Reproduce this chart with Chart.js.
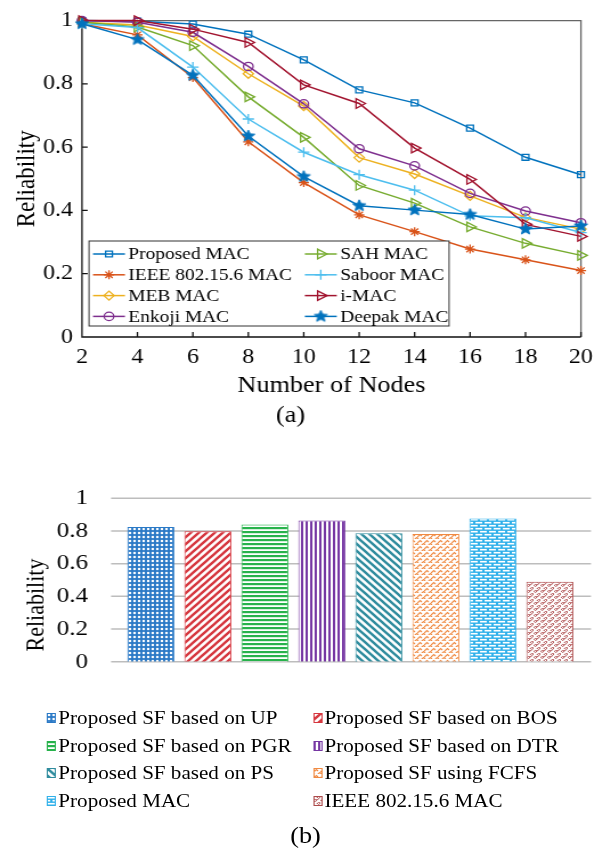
<!DOCTYPE html>
<html>
<head>
<meta charset="utf-8">
<title>Reliability</title>
<script src="https://cdn.jsdelivr.net/npm/chart.js@4.4.1/dist/chart.umd.min.js"></script>
<style>
  html, body { margin: 0; padding: 0; background: #fff; }
  body { width: 611px; height: 855px; overflow: hidden; }
  /* the source figure is a little wider than tall, so the page is stretched sideways */
  #page {
    position: relative;
    width: 536px;
    height: 855px;
    transform: scaleX(1.14);
    transform-origin: 0 0;
    font-family: "Liberation Serif", "Times New Roman", serif;
    color: #000;
  }
  #topBox { position: absolute; left: 0; top: 0; width: 536px; height: 440px; }
  #bottomBox { position: absolute; left: 0; top: 455px; width: 536px; height: 250px; }
  .y-title {
    position: absolute;
    left: -69.3px;
    top: 592px;
    width: 200px;
    height: 26px;
    line-height: 26px;
    text-align: center;
    font-size: 22px;
    transform: rotate(-90deg);
  }
  .legend-item {
    position: absolute;
    height: 24px;
    font-size: 18.5px;
    line-height: 24px;
    white-space: nowrap;
    display: flex;
    align-items: center;
  }
  .legend-item canvas { width: 8px; height: 10px; margin-right: 2px; }
  .caption {
    position: absolute;
    left: 0;
    top: 822px;
    width: 536px;
    text-align: center;
    font-size: 23px;
    line-height: 28px;
  }
</style>
</head>
<body>
<div id="page">
  <div id="topBox"><canvas id="reliabilityChart"></canvas></div>
  <div id="bottomBox"><canvas id="schemeChart"></canvas></div>
  <div class="y-title">Reliability</div>
  <div id="barLegend"></div>
  <div class="caption">(b)</div>
</div>

<script>
// (a) reliability vs number of nodes
const nodes = [2, 4, 6, 8, 10, 12, 14, 16, 18, 20];
const proposedMac = [1.0, 0.998, 0.989, 0.957, 0.876, 0.781, 0.740, 0.660, 0.568, 0.513];
const ieeeMac = [0.99, 0.955, 0.820, 0.617, 0.488, 0.386, 0.333, 0.278, 0.244, 0.210];
const mebMac = [0.995, 0.986, 0.950, 0.832, 0.730, 0.567, 0.515, 0.446, 0.378, 0.341];
const enkojiMac = [1.0, 0.995, 0.963, 0.855, 0.737, 0.595, 0.541, 0.454, 0.398, 0.361];
const sahMac = [0.995, 0.980, 0.921, 0.759, 0.631, 0.479, 0.423, 0.348, 0.296, 0.258];
const saboorMac = [0.99, 0.978, 0.853, 0.689, 0.584, 0.513, 0.464, 0.383, 0.377, 0.330];
const iMac = [1.0, 1.0, 0.973, 0.931, 0.797, 0.738, 0.597, 0.498, 0.356, 0.318];
const deepakMac = [0.99, 0.940, 0.827, 0.635, 0.507, 0.415, 0.401, 0.387, 0.341, 0.351];

// (b) reliability of each scheme
const schemeLabels = [
  "Proposed SF based on UP",
  "Proposed SF based on BOS",
  "Proposed SF based on PGR",
  "Proposed SF based on DTR",
  "Proposed SF based on PS",
  "Proposed SF using FCFS",
  "Proposed MAC",
  "IEEE 802.15.6 MAC"
];
const schemeValues = [0.824, 0.798, 0.840, 0.863, 0.785, 0.781, 0.876, 0.490];

Chart.defaults.font.family = '"Liberation Serif", "Times New Roman", serif';
Chart.defaults.color = "#000";

// ticks read 0, 0.2 ... 1 like the figure
const plainTick = (value) => String(Number(value.toFixed(1)));

// 5 point star marker for Deepak MAC
function makeStar(color, r) {
  const size = Math.ceil(r * 2 + 2);
  const c = document.createElement("canvas");
  c.width = size;
  c.height = size;
  const g = c.getContext("2d");
  g.beginPath();
  for (let k = 0; k < 10; k++) {
    const rad = k % 2 === 0 ? r : r * 0.45;
    const a = -Math.PI / 2 + (k * Math.PI) / 5;
    g.lineTo(size / 2 + rad * Math.cos(a), size / 2 + rad * Math.sin(a));
  }
  g.closePath();
  g.fillStyle = color;
  g.fill();
  g.strokeStyle = color;
  g.lineWidth = 1;
  g.stroke();
  return c;
}

const lineSeries = [
  { label: "Proposed MAC", data: proposedMac, color: "#0072BD", style: "rect", radius: 4.2 },
  { label: "IEEE 802.15.6 MAC", data: ieeeMac, color: "#D95319", style: "star", radius: 4.5 },
  { label: "MEB MAC", data: mebMac, color: "#EDB120", style: "rectRot", radius: 4.5 },
  { label: "Enkoji MAC", data: enkojiMac, color: "#7E2F8E", style: "circle", radius: 4.2 },
  { label: "SAH MAC", data: sahMac, color: "#77AC30", style: "triangle", rotation: 90, radius: 5.5 },
  { label: "Saboor MAC", data: saboorMac, color: "#4DBEEE", style: "cross", radius: 5 },
  { label: "i-MAC", data: iMac, color: "#A2142F", style: "triangle", rotation: 90, radius: 5.5 },
  { label: "Deepak MAC", data: deepakMac, color: "#0072BD", style: makeStar("#0072BD", 6), radius: 6 }
];

// box with inward ticks, matlab style
const framePlugin = {
  id: "frame",
  beforeDatasetsDraw(chart) {
    const { ctx, chartArea, scales } = chart;
    const { left, right, top, bottom } = chartArea;
    ctx.save();
    ctx.lineWidth = 1.3;
    ctx.strokeStyle = "#666";
    ctx.beginPath();
    ctx.moveTo(left, top);
    ctx.lineTo(right, top);
    ctx.lineTo(right, bottom);
    ctx.stroke();

    ctx.strokeStyle = "#111";
    ctx.beginPath();
    ctx.moveTo(left, top);
    ctx.lineTo(left, bottom);
    ctx.lineTo(right, bottom);
    scales.x.ticks.forEach((t) => {
      const px = scales.x.getPixelForValue(t.value);
      ctx.moveTo(px, bottom);
      ctx.lineTo(px, bottom - 5);
    });
    scales.y.ticks.forEach((t) => {
      const py = scales.y.getPixelForValue(t.value);
      ctx.moveTo(left, py);
      ctx.lineTo(left + 5, py);
    });
    ctx.stroke();
    ctx.restore();
  }
};

// legend box inside the plot, two columns
const boxLegendPlugin = {
  id: "boxLegend",
  afterDatasetsDraw(chart) {
    const { ctx, chartArea } = chart;
    const boxLeft = chartArea.left + 6.2;
    const boxRight = boxLeft + 315.8;
    const boxBottom = chartArea.bottom - 11;
    const boxTop = boxBottom - 85;
    const rowY = [254, 274.8, 295.6, 316.4];
    const colX = [boxLeft + 3.5, boxLeft + 189.3];

    ctx.save();
    ctx.fillStyle = "#fff";
    ctx.fillRect(boxLeft, boxTop, boxRight - boxLeft, boxBottom - boxTop);
    ctx.strokeStyle = "#333";
    ctx.lineWidth = 1;
    ctx.strokeRect(boxLeft, boxTop, boxRight - boxLeft, boxBottom - boxTop);

    ctx.font = '17px "Liberation Serif", "Times New Roman", serif';
    ctx.textBaseline = "middle";
    chart.data.datasets.forEach((ds, i) => {
      const x0 = colX[Math.floor(i / 4)];
      const y0 = rowY[i % 4];
      ctx.strokeStyle = ds.borderColor;
      ctx.lineWidth = 1.5;
      ctx.beginPath();
      ctx.moveTo(x0, y0);
      ctx.lineTo(x0 + 28, y0);
      ctx.stroke();

      ctx.fillStyle = "rgba(0,0,0,0)";
      ctx.lineWidth = 1.3;
      if (Chart.helpers && Chart.helpers.drawPoint) {
        Chart.helpers.drawPoint(ctx, {
          pointStyle: ds.pointStyle,
          rotation: ds.pointRotation || 0,
          radius: ds.pointRadius,
          borderWidth: 1.3
        }, x0 + 14, y0);
      }

      ctx.fillStyle = "#000";
      ctx.fillText(ds.label, x0 + 31, y0 + 1);
    });
    ctx.restore();
  }
};

new Chart(document.getElementById("reliabilityChart"), {
  type: "line",
  data: {
    datasets: lineSeries.map((s, i) => ({
      label: s.label,
      data: nodes.map((n, k) => ({ x: n, y: s.data[k] })),
      borderColor: s.color,
      backgroundColor: s.color,
      borderWidth: 1.5,
      pointStyle: s.style,
      pointRotation: s.rotation || 0,
      pointRadius: s.radius,
      pointBorderWidth: 1.3,
      pointBorderColor: s.color,
      pointBackgroundColor: "rgba(0,0,0,0)",
      tension: 0,
      clip: false,
      order: lineSeries.length - i
    }))
  },
  options: {
    responsive: true,
    maintainAspectRatio: false,
    animation: false,
    layout: {
      padding: { left: 0, right: 26.4, top: 12, bottom: 10.2 }
    },
    plugins: {
      legend: { display: false },
      tooltip: { enabled: false },
      title: {
        display: true,
        text: "(a)",
        position: "bottom",
        color: "#000",
        font: { size: 23, weight: "normal" },
        padding: { top: 2.4, bottom: 0 }
      }
    },
    scales: {
      x: {
        type: "linear",
        min: 2,
        max: 20,
        ticks: { stepSize: 2, padding: 8, color: "#000", font: { size: 21 } },
        grid: { display: false, drawTicks: false },
        border: { display: false },
        title: {
          display: true,
          text: "Number of Nodes",
          color: "#000",
          font: { size: 23 },
          padding: { top: 2, bottom: 0 }
        },
        afterFit(scale) {
          scale.height = 62.8;
        }
      },
      y: {
        min: 0,
        max: 1,
        ticks: { stepSize: 0.2, padding: 8, color: "#000", font: { size: 21 }, callback: plainTick },
        grid: { display: false, drawTicks: false },
        border: { display: false },
        title: {
          display: true,
          text: "Reliability",
          color: "#000",
          font: { size: 23 },
          padding: { top: 10, bottom: 0 }
        },
        afterFit(scale) {
          scale.width = 71.9;
        }
      }
    }
  },
  plugins: [framePlugin, boxLegendPlugin]
});

// BAR PATTERNS
function makeTile(w, h, draw) {
  const c = document.createElement("canvas");
  c.width = w;
  c.height = h;
  const g = c.getContext("2d");
  g.fillStyle = "#fff";
  g.fillRect(0, 0, w, h);
  draw(g, w, h);
  return c;
}

function stripes(color, size, width, forward) {
  return makeTile(size, size, (g, w, h) => {
    g.strokeStyle = color;
    g.lineWidth = width;
    g.beginPath();
    if (forward) {
      g.moveTo(0, h); g.lineTo(w, 0);
      g.moveTo(-1, 1); g.lineTo(1, -1);
      g.moveTo(w - 1, h + 1); g.lineTo(w + 1, h - 1);
    } else {
      g.moveTo(0, 0); g.lineTo(w, h);
      g.moveTo(-1, h - 1); g.lineTo(1, h + 1);
      g.moveTo(w - 1, -1); g.lineTo(w + 1, 1);
    }
    g.stroke();
  });
}

const schemeColors = ["#2a79c6", "#d6363e", "#27b24b", "#7637a3", "#2f8c9e", "#f08a42", "#2fb0ea", "#ad4a4b"];

const schemeTiles = [
  makeTile(4, 4, (g) => {
    g.fillStyle = schemeColors[0];
    g.fillRect(0, 0, 4, 4);
    g.fillStyle = "#fff";
    g.beginPath();
    g.arc(2, 2, 1.2, 0, Math.PI * 2);
    g.fill();
  }),
  stripes(schemeColors[1], 7, 2.3, true),
  makeTile(4, 4, (g) => {
    g.fillStyle = schemeColors[2];
    g.fillRect(0, 0, 4, 2.2);
  }),
  makeTile(4, 4, (g) => {
    g.fillStyle = schemeColors[3];
    g.fillRect(0, 0, 2, 4);
  }),
  stripes(schemeColors[4], 7, 2.3, false),
  makeTile(6, 6, (g) => {
    g.strokeStyle = schemeColors[5];
    g.lineWidth = 1.1;
    g.beginPath();
    g.moveTo(0, 4); g.lineTo(2.5, 1.5); g.lineTo(4, 3);
    g.moveTo(3, 7); g.lineTo(5.5, 4.5); g.lineTo(7, 6);
    g.moveTo(-3, 7); g.lineTo(-0.5, 4.5); g.lineTo(1, 6);
    g.stroke();
  }),
  makeTile(8, 6, (g) => {
    g.fillStyle = schemeColors[6];
    g.fillRect(0, 0, 8, 6);
    g.fillStyle = "#fff";
    g.fillRect(1, 0.9, 6, 1.6);
    g.fillRect(-3, 3.9, 6, 1.6);
    g.fillRect(5, 3.9, 6, 1.6);
  }),
  makeTile(6, 6, (g) => {
    g.strokeStyle = schemeColors[7];
    g.lineWidth = 1;
    g.beginPath();
    g.moveTo(0, 5);
    g.bezierCurveTo(1.5, 1.5, 3, 6, 6, 1);
    g.moveTo(-3, 8);
    g.bezierCurveTo(-1.5, 4.5, 0, 9, 3, 4);
    g.moveTo(3, 2);
    g.bezierCurveTo(4.5, -1.5, 6, 3, 9, -2);
    g.stroke();
  })
];

const barCtx = document.getElementById("schemeChart").getContext("2d");
const schemePatterns = schemeTiles.map((t) => barCtx.createPattern(t, "repeat"));

// gray gridlines a bit wider than the bars
const barGridPlugin = {
  id: "barGrid",
  beforeDatasetsDraw(chart) {
    const { ctx, chartArea, scales } = chart;
    ctx.save();
    ctx.strokeStyle = "#bdbdbd";
    ctx.lineWidth = 1.5;
    ctx.beginPath();
    scales.y.ticks.forEach((t) => {
      const py = scales.y.getPixelForValue(t.value);
      ctx.moveTo(chartArea.left - 9.9, py);
      ctx.lineTo(chartArea.right + 11.1, py);
    });
    ctx.stroke();
    ctx.restore();
  }
};

new Chart(barCtx, {
  type: "bar",
  data: {
    labels: schemeLabels,
    datasets: [
      {
        data: schemeValues,
        backgroundColor: schemePatterns,
        borderColor: schemeColors,
        borderWidth: 1,
        barPercentage: 0.825,
        categoryPercentage: 1
      }
    ]
  },
  options: {
    responsive: true,
    maintainAspectRatio: false,
    animation: false,
    layout: {
      padding: { left: 0, right: 28.7, top: 19, bottom: 17 }
    },
    plugins: {
      legend: { display: false },
      tooltip: { enabled: false }
    },
    scales: {
      x: { display: false },
      y: {
        min: 0,
        max: 1,
        ticks: { stepSize: 0.2, padding: 30, color: "#000", font: { size: 22 }, callback: plainTick },
        grid: { display: false, drawTicks: false },
        border: { display: false },
        afterFit(scale) {
          scale.width = 107.3;
        }
      }
    }
  },
  plugins: [barGridPlugin]
});

// HTML LEGEND FOR THE BARS
const barLegend = document.getElementById("barLegend");
const legendRows = [718, 746, 773, 801];
const legendCols = [41.2, 274.6];

schemeLabels.forEach((label, i) => {
  const item = document.createElement("div");
  item.className = "legend-item";
  item.style.left = legendCols[i % 2] + "px";
  item.style.top = legendRows[Math.floor(i / 2)] - 12 + "px";

  const icon = document.createElement("canvas");
  icon.width = 8;
  icon.height = 10;
  const g = icon.getContext("2d");
  g.fillStyle = g.createPattern(schemeTiles[i], "repeat");
  g.fillRect(0, 0, 8, 10);
  g.strokeStyle = schemeColors[i];
  g.lineWidth = 1;
  g.strokeRect(0.5, 0.5, 7, 9);

  const text = document.createElement("span");
  text.textContent = label;

  item.appendChild(icon);
  item.appendChild(text);
  barLegend.appendChild(item);
});
</script>
</body>
</html>
